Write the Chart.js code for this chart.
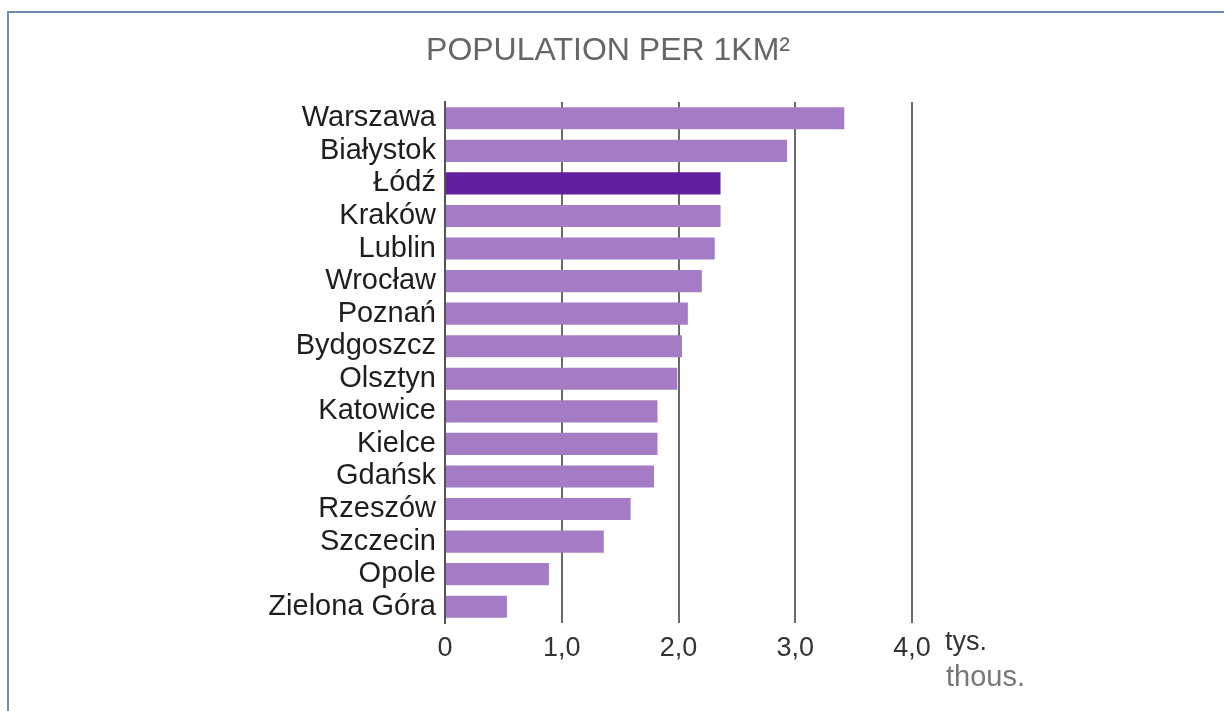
<!DOCTYPE html>
<html>
<head>
<meta charset="utf-8">
<script src="https://cdn.jsdelivr.net/npm/chart.js"></script>
<style>
    body { margin: 0; background: #fff; }
    #wrap { position: relative; width: 1224px; height: 711px; overflow: hidden; }
    #frame { position: absolute; left: 7px; top: 11px; right: -10px; bottom: -10px;
             border-top: 2px solid #6d90b0; border-left: 2px solid #6d90b0; }
    canvas { position: absolute; left: 0; top: 0; }
</style>
</head>
<body>
<div id="wrap">
    <canvas id="densityChart" width="1224" height="711"></canvas>
    <div id="frame"></div>
</div>
<script>
const cities = ['Warszawa', 'Białystok', 'Łódź', 'Kraków', 'Lublin', 'Wrocław', 'Poznań', 'Bydgoszcz',
    'Olsztyn', 'Katowice', 'Kielce', 'Gdańsk', 'Rzeszów', 'Szczecin', 'Opole', 'Zielona Góra'];
const density = [3.42, 2.93, 2.36, 2.36, 2.31, 2.20, 2.08, 2.03, 1.99, 1.82, 1.82, 1.79, 1.59, 1.36, 0.89, 0.53];
const highlighted = 'Łódź';
const xTicks = [0, 1, 2, 3, 4];
const chartTitle = 'POPULATION PER 1KM²';
const unitLines = ['tys.', 'thous.'];

const barColors = cities.map(c => c === highlighted ? '#611f9d' : '#a47bc4');

// title on the whole canvas + unit text after the last tick
const extraText = {
    id: 'extraText',
    afterDraw(chart) {
        const ctx = chart.ctx;
        const x = chart.scales.x;
        ctx.save();
        ctx.fillStyle = '#666';
        ctx.font = '32px "Liberation Sans", Arial, sans-serif';
        ctx.textAlign = 'center';
        ctx.textBaseline = 'middle';
        ctx.fillText(chartTitle, 608, 51);

        ctx.textAlign = 'left';
        const px = x.getPixelForValue(xTicks[xTicks.length - 1]);
        ctx.font = '27px "Liberation Sans", Arial, sans-serif';
        ctx.fillStyle = '#333';
        ctx.fillText(unitLines[0], px + 33, 643);
        ctx.font = '29px "Liberation Sans", Arial, sans-serif';
        ctx.fillStyle = '#777';
        ctx.fillText(unitLines[1], px + 34, 678);
        ctx.restore();
    }
};

new Chart(document.getElementById('densityChart'), {
    type: 'bar',
    data: {
        labels: cities,
        datasets: [{
            data: density,
            backgroundColor: barColors,
            borderWidth: 0,
            barPercentage: 0.68,
            categoryPercentage: 1
        }]
    },
    options: {
        indexAxis: 'y',
        responsive: false,
        animation: false,
        layout: { padding: { top: 102, right: 312, bottom: 0, left: 0 } },
        plugins: {
            legend: { display: false },
            tooltip: { enabled: false }
        },
        scales: {
            x: {
                min: 0,
                max: 4,
                afterBuildTicks(scale) {
                    scale.ticks = xTicks.map(v => ({ value: v }));
                },
                afterFit(scale) { scale.height = 88; },
                grid: { color: '#6a6a6a', lineWidth: 2, drawTicks: false },
                border: { display: false },
                ticks: {
                    color: '#333',
                    padding: 9,
                    font: { family: '"Liberation Sans", Arial, sans-serif', size: 27 },
                    callback: v => v === 0 ? '0' : v.toFixed(1).replace('.', ',')
                }
            },
            y: {
                afterFit(scale) { scale.width = 445; },
                grid: { display: false, drawTicks: false },
                border: { display: true, color: '#555', width: 2 },
                ticks: {
                    autoSkip: false,
                    color: '#1e1e1e',
                    padding: 9,
                    font: { family: '"Liberation Sans", Arial, sans-serif', size: 29 }
                }
            }
        }
    },
    plugins: [extraText]
});
</script>
</body>
</html>
